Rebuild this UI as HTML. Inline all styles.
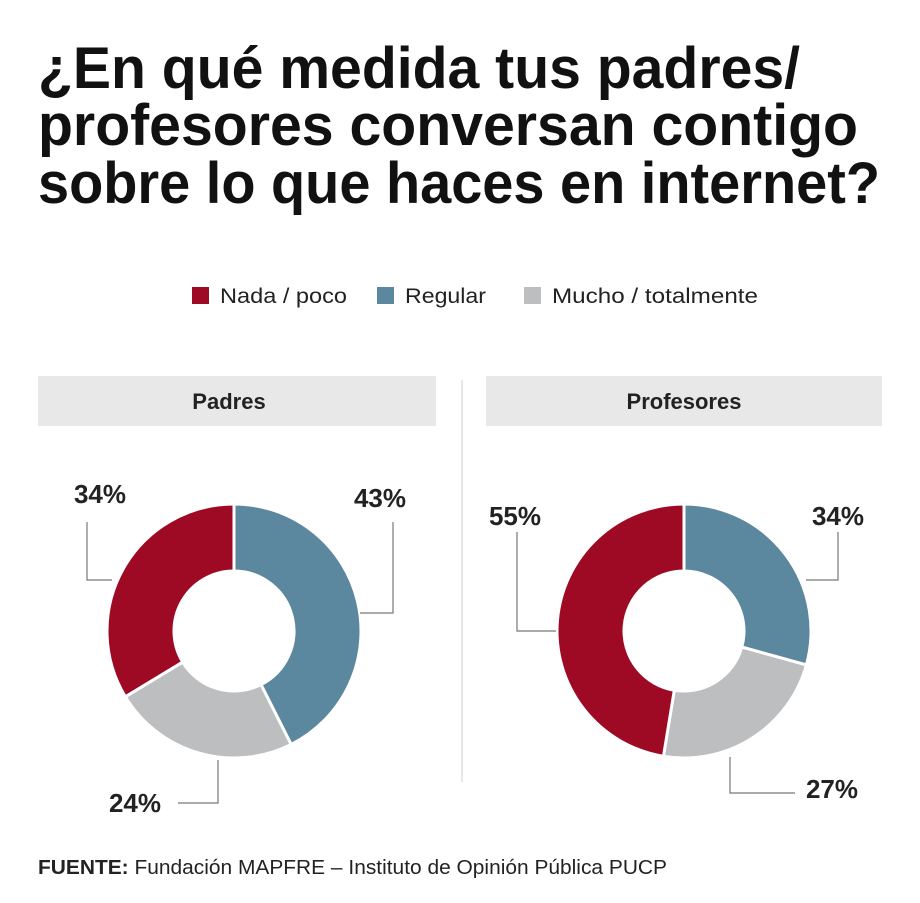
<!DOCTYPE html>
<html><head><meta charset="utf-8"><style>
body{margin:0;background:#fff;}
svg{display:block;font-family:"Liberation Sans",sans-serif;}
</style></head><body>
<svg id="chart" width="920" height="903" viewBox="0 0 920 903">
  <g font-weight="bold" font-size="58" fill="#111">
    <text x="38" y="88" textLength="762" lengthAdjust="spacingAndGlyphs">¿En qué medida tus padres/</text>
    <text x="38" y="145" textLength="820" lengthAdjust="spacingAndGlyphs">profesores conversan contigo</text>
    <text x="38" y="203" textLength="842" lengthAdjust="spacingAndGlyphs">sobre lo que haces en internet?</text>
  </g>
  <g font-size="21" fill="#222">
    <rect x="192" y="287" width="17" height="17" fill="#9e0a23"/>
    <text x="220" y="303" textLength="127" lengthAdjust="spacingAndGlyphs">Nada / poco</text>
    <rect x="377" y="287" width="17" height="17" fill="#5b879f"/>
    <text x="405" y="303" textLength="81" lengthAdjust="spacingAndGlyphs">Regular</text>
    <rect x="524" y="287" width="17" height="17" fill="#bdbec0"/>
    <text x="552" y="303" textLength="206" lengthAdjust="spacingAndGlyphs">Mucho / totalmente</text>
  </g>
  <rect x="38" y="376" width="398" height="50" fill="#e8e8e8"/>
  <text x="229" y="409" font-size="22" font-weight="bold" text-anchor="middle" fill="#222">Padres</text>
  <rect x="486" y="376" width="396" height="50" fill="#e8e8e8"/>
  <text x="684" y="409" font-size="22" font-weight="bold" text-anchor="middle" fill="#222">Profesores</text>
  <line x1="462" y1="380" x2="462" y2="782" stroke="#ccc" stroke-width="1"/>
  <g id="donuts"></g>
  <g fill="none" stroke="#777" stroke-width="1.2">
    <polyline points="87,522 87,580 112,580"/>
    <polyline points="393,522 393,613 360,613"/>
    <polyline points="178,803 218,803 218,760"/>
    <polyline points="517,532 517,631 556,631"/>
    <polyline points="838,532 838,580 806,580"/>
    <polyline points="795,793 730,793 730,757"/>
  </g>
  <text x="38" y="874" font-size="20" fill="#222" textLength="629" lengthAdjust="spacingAndGlyphs"><tspan font-weight="bold">FUENTE:</tspan> Fundación MAPFRE – Instituto de Opinión Pública PUCP</text>
</svg>
<script>
const categories = ["Regular", "Mucho / totalmente", "Nada / poco"];
const colors = ["#5b879f", "#bdbec0", "#9e0a23"];
const padresValues = [43, 24, 34];
const profesoresValues = [34, 27, 55];
const padresLabels = ["43%", "24%", "34%"];
const profesoresLabels = ["34%", "27%", "55%"];

const NS = "http://www.w3.org/2000/svg";
const g = document.getElementById("donuts");
function pt(cx, cy, r, a) { return [cx + r * Math.sin(a), cy - r * Math.cos(a)]; }
function donut(name, cx, cy, values, labels, labelPos) {
  const total = values.reduce((a, b) => a + b, 0);
  const R = 127, r = 60;
  let a0 = 0;
  values.forEach((v, i) => {
    const a1 = a0 + v / total * 2 * Math.PI;
    const large = (a1 - a0) > Math.PI ? 1 : 0;
    const p1 = pt(cx, cy, R, a0), p2 = pt(cx, cy, R, a1), p3 = pt(cx, cy, r, a1), p4 = pt(cx, cy, r, a0);
    const p = document.createElementNS(NS, "path");
    p.setAttribute("d", `M${p1[0]},${p1[1]} A${R},${R} 0 ${large} 1 ${p2[0]},${p2[1]} L${p3[0]},${p3[1]} A${r},${r} 0 ${large} 0 ${p4[0]},${p4[1]} Z`);
    p.setAttribute("fill", colors[i]);
    p.setAttribute("stroke", "#fff");
    p.setAttribute("stroke-width", "3");
    
    
    g.appendChild(p);
    const t = document.createElementNS(NS, "text");
    t.setAttribute("x", labelPos[i][0]);
    t.setAttribute("y", labelPos[i][1]);
    t.setAttribute("font-size", "26");
    t.setAttribute("font-weight", "bold");
    t.setAttribute("fill", "#222");
    t.setAttribute("text-anchor", "middle");
    t.textContent = labels[i];
    
    
    g.appendChild(t);
    a0 = a1;
  });
}
donut("padres", 234, 631, padresValues, padresLabels, [[380, 507], [135, 812], [100, 503]]);
donut("profesores", 684, 631, profesoresValues, profesoresLabels, [[838, 525], [832, 798], [515, 525]]);
</script>
</body></html>
